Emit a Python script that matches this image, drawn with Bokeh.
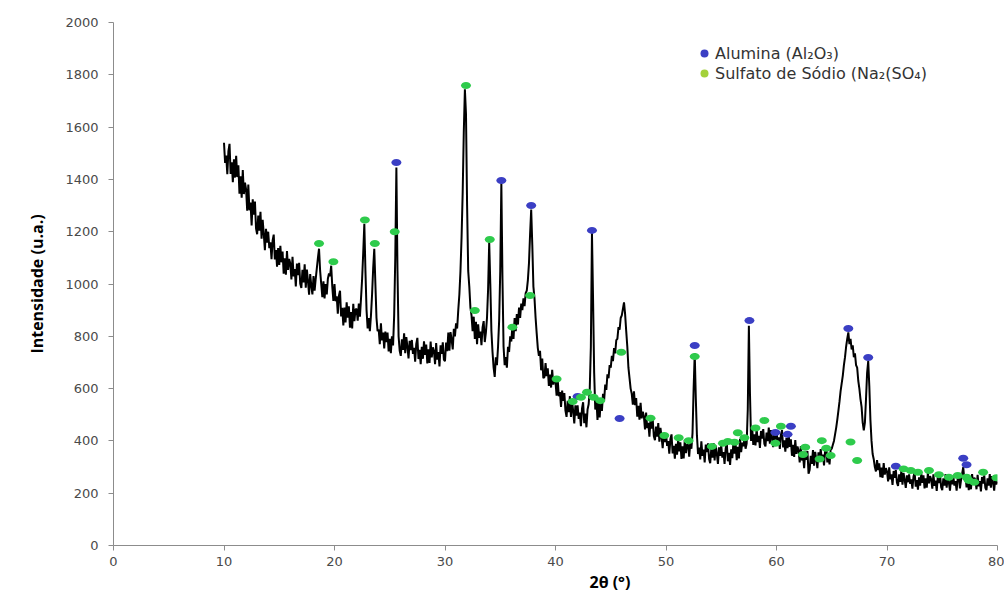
from bokeh.plotting import figure
from bokeh.models import Range1d, FixedTicker, Legend, LegendItem, ColumnDataSource, Title
from bokeh.embed import file_html
from bokeh.resources import INLINE

# Diffractogram: intensity sampled every 0.1 deg of 2-theta, from 10.0 to 80.0
TWO_THETA_START = 10.0
TWO_THETA_STEP = 0.1
intensity = [
    1540, 1463, 1491, 1420, 1508, 1536, 1421, 1465, 1389, 1477,   # 10
    1407, 1490, 1409, 1454, 1345, 1412, 1330, 1436, 1344, 1388,   # 11
    1362, 1280, 1380, 1282, 1311, 1224, 1324, 1265, 1315, 1212,   # 12
    1190, 1262, 1204, 1276, 1173, 1245, 1192, 1129, 1211, 1158,   # 13
    1200, 1137, 1159, 1095, 1167, 1189, 1094, 1130, 1066, 1137,   # 14
    1073, 1146, 1083, 1124, 1039, 1098, 1036, 1126, 1054, 1096,   # 15
    1078, 1017, 1104, 1029, 1057, 991, 1078, 1034, 1081, 1001,    # 16
    985, 1054, 1006, 1075, 986, 1055, 1012, 959, 1038, 994,       # 17
    960, 1030, 975, 1020, 1060, 1100, 1135, 1050, 1000, 950,      # 18
    1010, 945, 1000, 960, 1020, 1040, 1030, 1070, 990, 935,       # 19
    1000, 934, 953, 886, 955, 974, 876, 909, 842, 910,            # 20
    853, 930, 871, 915, 833, 893, 830, 924, 858, 902,             # 21
    905, 860, 925, 875, 945, 1020, 1120, 1230, 1050, 900,         # 22
    830, 870, 820, 880, 960, 1060, 1135, 1000, 870, 820,          # 23
    826, 770, 850, 784, 814, 754, 818, 778, 814, 742,             # 24
    790, 735, 800, 765, 880, 1100, 1445, 1050, 800, 745,          # 25
    725, 788, 748, 811, 735, 797, 760, 715, 783, 747,             # 26
    786, 733, 756, 703, 771, 794, 713, 748, 693, 760,             # 27
    714, 781, 729, 768, 696, 750, 698, 780, 719, 758,             # 28
    744, 693, 774, 711, 740, 685, 766, 733, 777, 711,             # 29
    705, 776, 743, 814, 745, 816, 787, 750, 829, 800,             # 30
    850, 830, 900, 960, 1050, 1180, 1350, 1580, 1745, 1650,       # 31
    1300, 1050, 990, 910, 880, 820, 875, 790, 855, 770,           # 32
    846, 794, 818, 766, 834, 858, 778, 814, 870, 980,             # 33
    1160, 1000, 820, 740, 680, 645, 720, 690, 760, 860,           # 34
    1050, 1385, 1020, 760, 690, 720, 680, 760, 740, 800,          # 35
    780, 840, 790, 870, 820, 885, 845, 910, 870, 925,             # 36
    900, 945, 915, 965, 975, 1015, 1080, 1190, 1285, 1150,        # 37
    990, 945, 870, 810, 755, 725, 745, 670, 715, 640,             # 38
    644, 698, 648, 678, 610, 654, 604, 672, 615, 644,             # 39
    626, 573, 634, 571, 587, 530, 592, 553, 583, 516,             # 40
    492, 553, 510, 571, 492, 553, 514, 467, 536, 497,             # 41
    536, 484, 508, 456, 524, 548, 468, 504, 452, 520,             # 42
    540, 600, 760, 1195, 940, 660, 520, 560, 480, 550,            # 43
    490, 560, 515, 580, 555, 615, 595, 655, 640, 690,             # 44
    680, 725, 705, 755, 735, 785, 790, 835, 825, 870,             # 45
    880, 905, 930, 885, 820, 760, 680, 640, 600, 580,             # 46
    539, 590, 537, 564, 493, 534, 481, 546, 486, 512,             # 47
    494, 444, 508, 449, 469, 416, 482, 447, 481, 418,             # 48
    403, 455, 416, 468, 397, 450, 414, 372, 431, 395,             # 49
    430, 381, 399, 351, 407, 425, 352, 381, 332, 389,             # 50
    347, 405, 360, 395, 331, 379, 333, 404, 353, 386,             # 51
    385, 340, 395, 370, 430, 600, 735, 560, 420, 350,             # 52
    374, 329, 398, 343, 367, 318, 386, 357, 391, 331,             # 53
    315, 371, 336, 392, 325, 382, 350, 312, 375, 343,             # 54
    382, 336, 357, 312, 371, 392, 322, 354, 308, 368,             # 55
    334, 395, 351, 388, 326, 377, 333, 408, 357, 393,             # 56
    380, 410, 370, 390, 520, 840, 580, 400, 450, 385,             # 57
    425, 383, 448, 396, 419, 373, 438, 409, 445, 389,             # 58
    379, 432, 399, 451, 389, 441, 412, 376, 435, 405,             # 59
    439, 395, 414, 369, 424, 441, 375, 402, 359, 412,             # 60
    372, 424, 377, 406, 343, 385, 339, 403, 350, 379,             # 61
    363, 318, 380, 325, 345, 296, 359, 327, 361, 275,             # 62
    289, 343, 312, 365, 305, 358, 330, 296, 356, 327,             # 63
    369, 328, 348, 306, 362, 382, 318, 347, 310, 367,             # 64
    370, 385, 400, 425, 450, 480, 515, 550, 590, 620,             # 65
    650, 690, 720, 760, 790, 815, 770, 790, 750, 765,             # 66
    720, 735, 690, 680, 630, 600, 560, 530, 470, 440,             # 67
    470, 560, 660, 705, 610, 480, 400, 350, 330, 300,             # 68
    283, 327, 288, 314, 261, 298, 259, 315, 271, 296,             # 69
    283, 245, 299, 253, 272, 232, 285, 259, 288, 240,             # 70
    228, 272, 243, 286, 233, 277, 251, 220, 268, 242,             # 71
    272, 236, 253, 217, 264, 280, 225, 250, 214, 261,             # 72
    229, 276, 240, 268, 218, 257, 221, 279, 238, 265,             # 73
    253, 217, 272, 228, 248, 209, 264, 239, 270, 223,             # 74
    212, 257, 229, 273, 221, 265, 240, 210, 259, 234,             # 75
    265, 229, 246, 210, 257, 273, 218, 250, 275, 300,             # 76
    250, 270, 222, 262, 212, 251, 215, 273, 232, 259,             # 77
    251, 215, 270, 226, 246, 207, 262, 237, 268, 221,             # 78
    212, 257, 229, 273, 221, 265, 240, 210, 259, 234,             # 79
    245,                                                          # 80
]
two_theta = [round(TWO_THETA_START + TWO_THETA_STEP * i, 1) for i in range(len(intensity))]

# Phase identification marks
alumina_2theta = [25.6, 35.1, 37.8, 42.0, 43.3, 45.8, 52.6, 57.55, 59.9, 61.0, 61.3,
                  66.5, 68.3, 70.8, 76.9, 77.2]
alumina_int = [1465, 1396, 1300, 570, 1205, 486, 765, 860, 432, 425, 456,
               830, 719, 303, 334, 309]

sulfato_2theta = [18.6, 19.9, 22.75, 23.65, 25.45, 31.9, 32.7, 34.05, 36.1, 37.7,
                  40.1, 41.55, 42.3, 42.85, 43.45, 44.05, 45.95, 48.6, 49.85, 51.15,
                  52.05, 52.6, 54.15, 55.15, 55.6, 56.2, 56.5, 57.1, 58.1, 58.9,
                  59.9, 60.4, 62.4, 62.6, 63.9, 64.1, 64.5, 64.9, 66.7, 67.3,
                  71.5, 72.15, 72.8, 73.8, 74.7, 75.6, 76.4, 77.2, 77.4, 77.9,
                  78.7, 79.9]
sulfato_int = [1155, 1085, 1245, 1155, 1200, 1759, 899, 1170, 835, 956,
               637, 551, 567, 586, 567, 554, 739, 487, 421, 412,
               401, 723, 379, 391, 398, 395, 431, 412, 449, 478,
               391, 456, 348, 376, 331, 401, 372, 344, 396, 325,
               293, 287, 280, 287, 271, 261, 268, 261, 249, 242,
               280, 259]

x_ticks = [0, 10, 20, 30, 40, 50, 60, 70, 80]
y_ticks = [0, 200, 400, 600, 800, 1000, 1200, 1400, 1600, 1800, 2000]

BLUE = "#3b3fc4"
GREEN = "#2ecb4c"
LEGEND_GREEN = "#a3d13a"
AXIS_GRAY = "#8c8c8c"
TICK_TEXT = "#4a4a4a"

p = figure(width=1004, height=605, output_backend="svg", toolbar_location=None,
           x_range=Range1d(0, 80), y_range=Range1d(0, 2000),
           min_border_left=113, min_border_right=7, min_border_top=22, min_border_bottom=60)
p.outline_line_color = None
p.xgrid.visible = False
p.ygrid.visible = False
p.background_fill_color = "white"
p.border_fill_color = "white"

p.line(two_theta, intensity, line_color="black", line_width=2.0)

p.ellipse(alumina_2theta, alumina_int, width=10, height=7,
          width_units="screen", height_units="screen",
          fill_color=BLUE, line_color=None)
p.ellipse(sulfato_2theta, sulfato_int, width=10, height=7,
          width_units="screen", height_units="screen",
          fill_color=GREEN, line_color=None)

# legend swatches (renderers with a single off-range point)
nowhere = ColumnDataSource(data=dict(x=[float("nan")], y=[float("nan")]))
r_al = p.scatter("x", "y", source=nowhere, size=9, marker="circle", fill_color=BLUE, line_color=None)
r_na = p.scatter("x", "y", source=nowhere, size=9, marker="circle", fill_color=LEGEND_GREEN, line_color=None)
legend = Legend(items=[LegendItem(label="Alumina (Al₂O₃)", renderers=[r_al]),
                       LegendItem(label="Sulfato de Sódio (Na₂(SO₄)", renderers=[r_na])],
                location=(580, 462), padding=0, margin=0, spacing=0,
                glyph_width=22, glyph_height=20, label_standoff=0,
                label_text_font="DejaVu Sans", label_text_font_size="16px",
                label_text_color="#333333", border_line_color=None,
                background_fill_alpha=0)
p.add_layout(legend)

for ax in (p.xaxis[0], p.yaxis[0]):
    ax.axis_line_color = AXIS_GRAY
    ax.major_tick_line_color = AXIS_GRAY
    ax.major_tick_in = 0
    ax.major_tick_out = 5
    ax.minor_tick_line_color = None
    ax.major_label_text_font = "DejaVu Sans"
    ax.major_label_text_font_size = "13px"
    ax.major_label_text_color = TICK_TEXT

p.xaxis.ticker = FixedTicker(ticks=x_ticks)
p.yaxis.ticker = FixedTicker(ticks=y_ticks)
p.xaxis.major_label_standoff = 6
p.yaxis.major_label_standoff = 10

p.yaxis.axis_label = "Intensidade (u.a.)"
p.yaxis.axis_label_text_font = "Open Sans"
p.yaxis.axis_label_text_font_style = "bold"
p.yaxis.axis_label_text_font_size = "16px"
p.yaxis.axis_label_text_color = "black"
p.yaxis.axis_label_standoff = 14

# x title, placed a little right of the frame centre
x_title = Title(text="2θ (°)", align="left", offset=476, standoff=0,
                text_font="Open Sans", text_font_style="bold",
                text_font_size="16px", text_color="black")
p.add_layout(x_title, "below")

open("out.html", "w").write(file_html(p, INLINE))
